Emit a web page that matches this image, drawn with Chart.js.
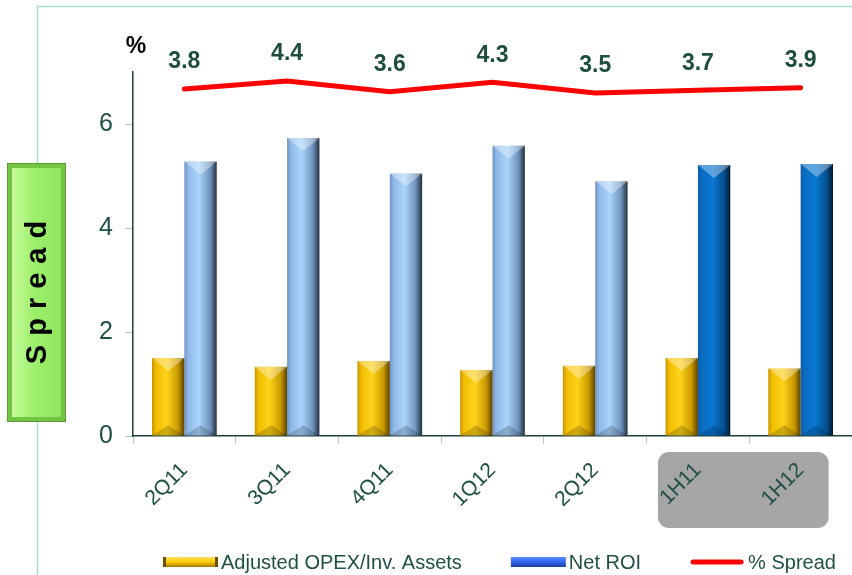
<!DOCTYPE html>
<html>
<head>
<meta charset="utf-8">
<script src="https://cdn.jsdelivr.net/npm/chart.js@4/dist/chart.umd.min.js"></script>
<style>
  html, body { margin: 0; padding: 0; background: #fff; }
  #wrap { width: 852px; height: 575px; position: relative; }
</style>
</head>
<body>
<div id="wrap"><canvas id="chart" width="852" height="575"></canvas></div>
<script>
// ─── Data ────────────────────────────────────────────────────────────────
const periods = ['2Q11', '3Q11', '4Q11', '1Q12', '2Q12', '1H11', '1H12'];
const opexValues = [1.50, 1.33, 1.44, 1.27, 1.35, 1.50, 1.30];
const roiValues = [5.28, 5.73, 5.05, 5.58, 4.90, 5.21, 5.23];
const spreadValues = [3.8, 4.4, 3.6, 4.3, 3.5, 3.7, 3.9];
const yTicks = [0, 2, 4, 6];

const textColor = '#1f4f45';
const FONT = '"Liberation Sans", Arial, sans-serif';
const CAT_PCT = 0.63;

// horizontal gradient across one bar, worked out from the x scale
function barFill(ctx, stops) {
  const chart = ctx.chart;
  const xs = chart.scales.x;
  if (!xs || !chart.chartArea || ctx.dataIndex == null) return stops[2];
  const center = xs.getPixelForValue(ctx.dataIndex);
  const barW = xs.width / periods.length * CAT_PCT / 2;
  const left = ctx.datasetIndex === 0 ? center - barW : center;
  const g = chart.ctx.createLinearGradient(left, 0, left + barW, 0);
  g.addColorStop(0, stops[0]);
  g.addColorStop(0.12, stops[1]);
  g.addColorStop(0.45, stops[2]);
  g.addColorStop(0.8, stops[3]);
  g.addColorStop(1, stops[4]);
  return g;
}
const yellowStops = ['#c89400', '#f2bd00', '#ffd21a', '#c99a00', '#5a4200'];
const lightBlueStops = ['#6d93c4', '#8fb8e8', '#aad4fb', '#6f93bd', '#22303c'];
const darkBlueStops = ['#0b5ea8', '#0a6cc0', '#0a78d4', '#04518f', '#011a30'];

// ─── Plugins ─────────────────────────────────────────────────────────────
const decor = {
  id: 'decor',
  beforeDraw(chart) {
    const { ctx, scales: { x } } = chart;
    ctx.save();
    // outer frame
    ctx.strokeStyle = '#a9ddd1';
    ctx.lineWidth = 1.5;
    ctx.beginPath();
    ctx.moveTo(37.5, 575);
    ctx.lineTo(37.5, 6.5);
    ctx.lineTo(852, 6.5);
    ctx.stroke();

    // grey panel behind the half-year labels
    const l = x.getPixelForValue(5) - 40, r = x.getPixelForValue(6) + 28;
    ctx.fillStyle = '#a6a6a6';
    ctx.beginPath();
    ctx.roundRect(l, 452, r - l, 76, 11);
    ctx.fill();

    // green "Spread" box
    const bx = 7, by = 163, bw = 59, bh = 259;
    ctx.fillStyle = '#74c443';
    ctx.fillRect(bx, by, bw, bh);
    const g = ctx.createLinearGradient(bx, 0, bx + bw, 0);
    g.addColorStop(0, '#d2ffa8');
    g.addColorStop(0.45, '#9df06c');
    g.addColorStop(1, '#8ee35c');
    ctx.fillStyle = g;
    ctx.fillRect(bx + 5, by + 5, bw - 10, bh - 10);
    ctx.strokeStyle = '#5c9a34';
    ctx.lineWidth = 1;
    ctx.strokeRect(bx + 0.5, by + 0.5, bw - 1, bh - 1);

    ctx.translate(bx + bw / 2, by + bh / 2);
    ctx.rotate(-Math.PI / 2);
    ctx.fillStyle = '#000';
    ctx.font = 'bold 29px ' + FONT;
    ctx.textBaseline = 'middle';
    const word = 'Spread', gap = 9;
    const widths = [...word].map(c => ctx.measureText(c).width);
    let cx = -(widths.reduce((a, b) => a + b, 0) + gap * (word.length - 1)) / 2;
    [...word].forEach((c, i) => {
      ctx.textAlign = 'left';
      ctx.fillText(c, cx, 1);
      cx += widths[i] + gap;
    });
    ctx.restore();
  },
  afterDatasetsDraw(chart) {
    const { ctx } = chart;
    ctx.save();
    // bevel highlights on the bars
    [0, 1].forEach(di => {
      chart.getDatasetMeta(di).data.forEach(bar => {
        const { x, y, base, width } = bar.getProps(['x', 'y', 'base', 'width'], true);
        const l = x - width / 2, r = x + width / 2;
        ctx.fillStyle = 'rgba(255,255,255,0.35)';
        ctx.beginPath();
        ctx.moveTo(l, y); ctx.lineTo(r, y); ctx.lineTo(x, y + width * 0.4);
        ctx.closePath(); ctx.fill();
        ctx.fillStyle = 'rgba(0,0,0,0.18)';
        ctx.beginPath();
        ctx.moveTo(l, base); ctx.lineTo(r, base); ctx.lineTo(x, base - width * 0.32);
        ctx.closePath(); ctx.fill();
      });
    });

    // spread value labels
    ctx.fillStyle = '#1e4d40';
    ctx.font = 'bold 23px ' + FONT;
    ctx.textAlign = 'center';
    ctx.textBaseline = 'middle';
    chart.getDatasetMeta(2).data.forEach((pt, i) => {
      ctx.fillText(spreadValues[i].toFixed(1), pt.x, pt.y - 27);
    });

    // "%" unit label
    ctx.fillStyle = '#000';
    ctx.font = 'bold 23px ' + FONT;
    ctx.fillText('%', chart.scales.y.right + 3, 47);
    ctx.restore();
  },
  afterDraw(chart) {
    // legend
    const { ctx } = chart;
    ctx.save();
    ctx.font = '20px ' + FONT;
    ctx.textBaseline = 'middle';
    ctx.textAlign = 'left';
    const ly = 562, sw = 55, gapText = 3, gapItem = 49;
    const items = chart.data.datasets.map(d => d.label);
    const widths = items.map(t => ctx.measureText(t).width);
    let x = 163;
    items.forEach((t, i) => {
      if (i === 0) {
        const g = ctx.createLinearGradient(0, ly - 5, 0, ly + 5);
        g.addColorStop(0, '#ffe060'); g.addColorStop(0.5, '#ffcc00'); g.addColorStop(1, '#a07800');
        ctx.fillStyle = g;
        ctx.fillRect(x, ly - 5, sw, 10);
        ctx.fillStyle = '#6a5000';
        ctx.fillRect(x, ly - 5, 3, 10); ctx.fillRect(x + sw - 3, ly - 5, 3, 10);
      } else if (i === 1) {
        const g = ctx.createLinearGradient(0, ly - 5, 0, ly + 5);
        g.addColorStop(0, '#5c88ff'); g.addColorStop(0.5, '#3366ee'); g.addColorStop(1, '#1d3f9a');
        ctx.fillStyle = g;
        ctx.fillRect(x, ly - 5, sw, 10);
      } else {
        ctx.strokeStyle = '#ff0000';
        ctx.lineWidth = 5;
        ctx.lineCap = 'round';
        ctx.beginPath(); ctx.moveTo(x + 3, ly); ctx.lineTo(x + sw - 4, ly); ctx.stroke();
      }
      x += sw + gapText;
      ctx.fillStyle = textColor;
      ctx.fillText(t, x, ly + 1);
      x += widths[i] + gapItem;
    });
    ctx.restore();
  }
};

// ─── Chart ───────────────────────────────────────────────────────────────
new Chart(document.getElementById('chart'), {
  data: {
    labels: periods,
    datasets: [
      {
        type: 'bar',
        label: 'Adjusted OPEX/Inv. Assets',
        data: opexValues,
        backgroundColor: c => barFill(c, yellowStops),
        categoryPercentage: CAT_PCT,
        barPercentage: 1,
        order: 2
      },
      {
        type: 'bar',
        label: 'Net ROI',
        data: roiValues,
        backgroundColor: c => barFill(c, c.dataIndex >= 5 ? darkBlueStops : lightBlueStops),
        categoryPercentage: CAT_PCT,
        barPercentage: 1,
        order: 2
      },
      {
        type: 'line',
        label: '% Spread',
        data: spreadValues,
        yAxisID: 'y2',
        borderColor: '#ff0000',
        borderWidth: 5,
        borderCapStyle: 'round',
        pointRadius: 0,
        tension: 0,
        order: 1
      }
    ]
  },
  options: {
    responsive: false,
    animation: false,
    layout: { padding: { top: 72, right: 0, left: 0, bottom: 0 } },
    plugins: { legend: { display: false }, tooltip: { enabled: false } },
    scales: {
      x: {
        grid: { drawOnChartArea: false, drawTicks: true, tickLength: 8, color: '#b8c8c4', offset: true },
        border: { color: '#1f3f38', width: 1.5 },
        ticks: {
          color: textColor,
          font: { family: FONT, size: 21 },
          minRotation: 45,
          maxRotation: 45,
          padding: 14
        },
        afterFit: s => { s.height = 139; }
      },
      y: {
        min: 0,
        max: 7,
        grid: { drawOnChartArea: false, drawTicks: true, tickLength: 7, color: '#9fd0c4' },
        border: { color: '#1f3f38', width: 1.5 },
        afterBuildTicks: s => { s.ticks = yTicks.map(v => ({ value: v })); },
        ticks: {
          color: textColor,
          font: { family: FONT, size: 25 },
          padding: 13
        },
        afterFit: s => { s.width = 133; }
      },
      y2: {
        display: false,
        min: -22.3,
        max: 5.08
      }
    }
  },
  plugins: [decor]
});
</script>
</body>
</html>
